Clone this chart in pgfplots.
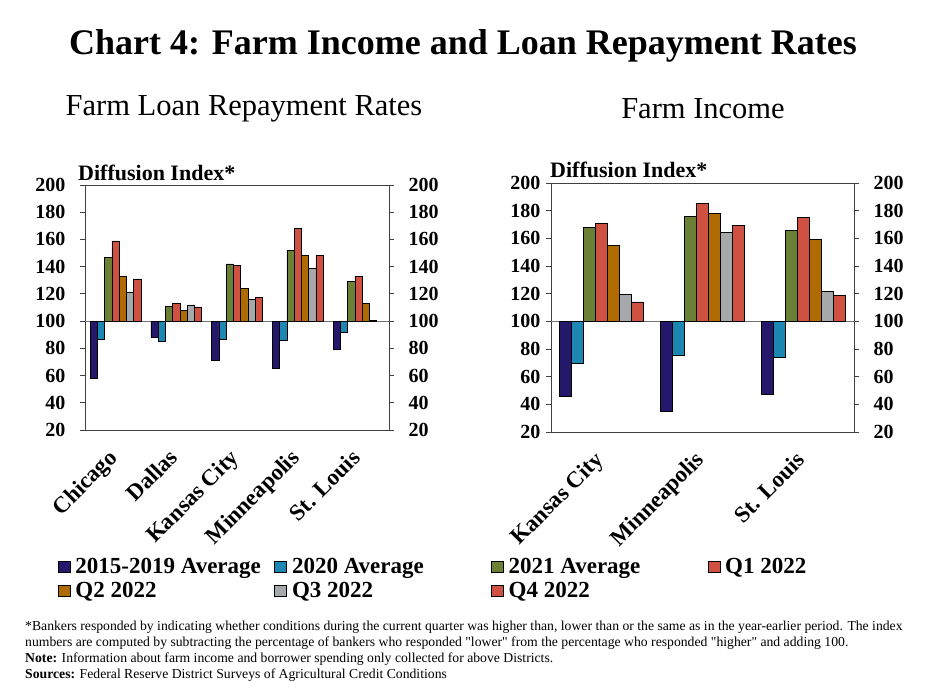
\documentclass[border=0pt]{standalone}
\usepackage{fontspec}
\setmainfont{Liberation Serif}
\newfontfamily\footfont{Liberation Serif}[Ligatures=TeXOff]
\usepackage{pgfplots}
\pgfplotsset{compat=1.18}
\usepackage{pgfplotstable}

\definecolor{cA}{HTML}{23186A}
\definecolor{cB}{HTML}{1C87B3}
\definecolor{cC}{HTML}{6A8035}
\definecolor{cD}{HTML}{CF5142}
\definecolor{cE}{HTML}{B06B00}
\definecolor{cF}{HTML}{A6A9AB}
\definecolor{cG}{HTML}{CF5142}

% Farm loan repayment rates (diffusion index)
\pgfplotstableread{
x a b c d e f g
0 58 87 147 159 133 121 131
1 88 85 111 113 108 112 110.5
2 71 86.5 142 141 124 116 117.5
3 65 86 152 168 148.5 139 148.5
4 79 92 129 133 113 100.8 100
}\loandata

% Farm income (diffusion index)
\pgfplotstableread{
x a b c d e f g
0 46 70 168 171 155 119.5 114
1 35 75.5 176 185 178 164.5 169.5
2 47 74 165.5 175 159 121.5 118.5
}\incomedata

\pgfplotsset{
  /pgfplots/ybar legend/.style={/pgfplots/legend image code/.code={%
    \draw[##1,draw=black,line width=0.6pt] (0pt,-5.5pt) rectangle (12pt,5.5pt);}},
  common/.style={
    scale only axis,
    ymin=-80, ymax=100,
    ytick={-80,-60,-40,-20,0,20,40,60,80,100},
    yticklabels={20,40,60,80,100,120,140,160,180,200},
    tick align=outside, major tick length=5pt,
    yticklabel style={font=\bfseries\fontsize{20}{20}\selectfont},
    axis line style={draw=black!75, line width=0.8pt},
    ytick style={draw=black!75, line width=0.8pt},
  },
  main/.style={
    common,
    ybar=0pt,
    ytick pos=left,
    xtick style={draw=none},
    xticklabel style={rotate=45, anchor=north east, inner sep=0pt, yshift=-3pt, xshift=-15pt,
      font=\bfseries\fontsize{23}{23}\selectfont},
    extra y ticks={0}, extra y tick labels={},
    extra y tick style={grid=major, major grid style={draw=black!55, line width=1.2pt}, major tick length=0pt},
    every axis plot/.append style={draw=black, line width=0.5pt},
  },
  right/.style={
    common,
    hide x axis,
    axis y line*=right,
    axis x line=none,
  },
}

\begin{document}
\begin{tikzpicture}
\useasboundingbox (0,0) rectangle (925pt,693pt);

\node[font=\bfseries\fontsize{36}{36}\selectfont] at (463pt,647pt) {Chart 4: Farm Income and Loan Repayment Rates};
\node[font=\fontsize{30.5}{30.5}\selectfont] at (244pt,584pt) {Farm Loan Repayment Rates};
\node[font=\fontsize{30.5}{30.5}\selectfont] at (703pt,584pt) {Farm Income};
\node[anchor=west, inner sep=0pt, font=\bfseries\fontsize{22}{22}\selectfont] at (78pt,520pt) {Diffusion Index*};
\node[anchor=west, inner sep=0pt, font=\bfseries\fontsize{22}{22}\selectfont] at (550pt,523pt) {Diffusion Index*};

% Left chart
\begin{axis}[main, at={(85pt,263pt)}, anchor=south west, width=304pt, height=245pt,
  xmin=-0.5, xmax=4.5, bar width=7.25pt,
  xtick={0,1,2,3,4}, xticklabels={Chicago,Dallas,Kansas City,Minneapolis,St. Louis},
  yticklabel style={xshift=-11pt},
  legend columns=4,
  legend style={at={(axis description cs:-0.09,-0.515)}, anchor=north west, draw=none, fill=none,
    inner sep=0pt, font=\bfseries\fontsize{23}{24}\selectfont,
    /tikz/every even column/.append style={column sep=0pt},
    /tikz/row sep=3pt},
  legend cell align=left,
]
\addplot[fill=cA] table[x=x, y expr=\thisrow{a}-100] {\loandata};
\addplot[fill=cB] table[x=x, y expr=\thisrow{b}-100] {\loandata};
\addplot[fill=cC] table[x=x, y expr=\thisrow{c}-100] {\loandata};
\addplot[fill=cD] table[x=x, y expr=\thisrow{d}-100] {\loandata};
\addplot[fill=cE] table[x=x, y expr=\thisrow{e}-100] {\loandata};
\addplot[fill=cF] table[x=x, y expr=\thisrow{f}-100] {\loandata};
\addplot[fill=cG] table[x=x, y expr=\thisrow{g}-100, skip coords between index={4}{5}] {\loandata};
\legend{\makebox[200pt][l]{\hspace{3pt}2015-2019 Average},\makebox[200pt][l]{\hspace{3pt}2020 Average},\makebox[200pt][l]{\hspace{3pt}2021 Average},\makebox[90pt][l]{\hspace{3pt}Q1 2022},
        \makebox[200pt][l]{\hspace{3pt}Q2 2022},\makebox[200pt][l]{\hspace{3pt}Q3 2022},\makebox[200pt][l]{\hspace{3pt}Q4 2022}}
\end{axis}
\begin{axis}[right, at={(85pt,263pt)}, anchor=south west, width=304pt, height=245pt, xmin=-0.5, xmax=4.5,
  yticklabel style={xshift=11pt}]
\end{axis}

% Right chart
\begin{axis}[main, at={(551pt,261pt)}, anchor=south west, width=303pt, height=249pt,
  xmin=-0.5, xmax=2.5, bar width=12pt,
  xtick={0,1,2}, xticklabels={Kansas City,Minneapolis,St. Louis},
  yticklabel style={xshift=-2pt},
]
\addplot[fill=cA] table[x=x, y expr=\thisrow{a}-100] {\incomedata};
\addplot[fill=cB] table[x=x, y expr=\thisrow{b}-100] {\incomedata};
\addplot[fill=cC] table[x=x, y expr=\thisrow{c}-100] {\incomedata};
\addplot[fill=cD] table[x=x, y expr=\thisrow{d}-100] {\incomedata};
\addplot[fill=cE] table[x=x, y expr=\thisrow{e}-100] {\incomedata};
\addplot[fill=cF] table[x=x, y expr=\thisrow{f}-100] {\incomedata};
\addplot[fill=cG] table[x=x, y expr=\thisrow{g}-100] {\incomedata};
\end{axis}
\begin{axis}[right, at={(551pt,261pt)}, anchor=south west, width=303pt, height=249pt, xmin=-0.5, xmax=2.5,
  yticklabel style={xshift=11pt}]
\end{axis}

% Footnotes
\begin{scope}[every node/.style={anchor=west, inner sep=0pt, font=\footfont\fontsize{13.7}{13.7}\selectfont}]
\node at (25pt,66pt) {*Bankers responded by indicating whether conditions during the current quarter was higher than, lower than or the same as in the year-earlier period. The index};
\node at (25pt,50pt) {numbers are computed by subtracting the percentage of bankers who responded "lower" from the percentage who responded "higher" and adding 100.};
\node at (25pt,34pt) {\textbf{Note:} Information about farm income and borrower spending only collected for above Districts.};
\node at (25pt,18pt) {\textbf{Sources:} Federal Reserve District Surveys of Agricultural Credit Conditions};
\end{scope}
\end{tikzpicture}
\end{document}
